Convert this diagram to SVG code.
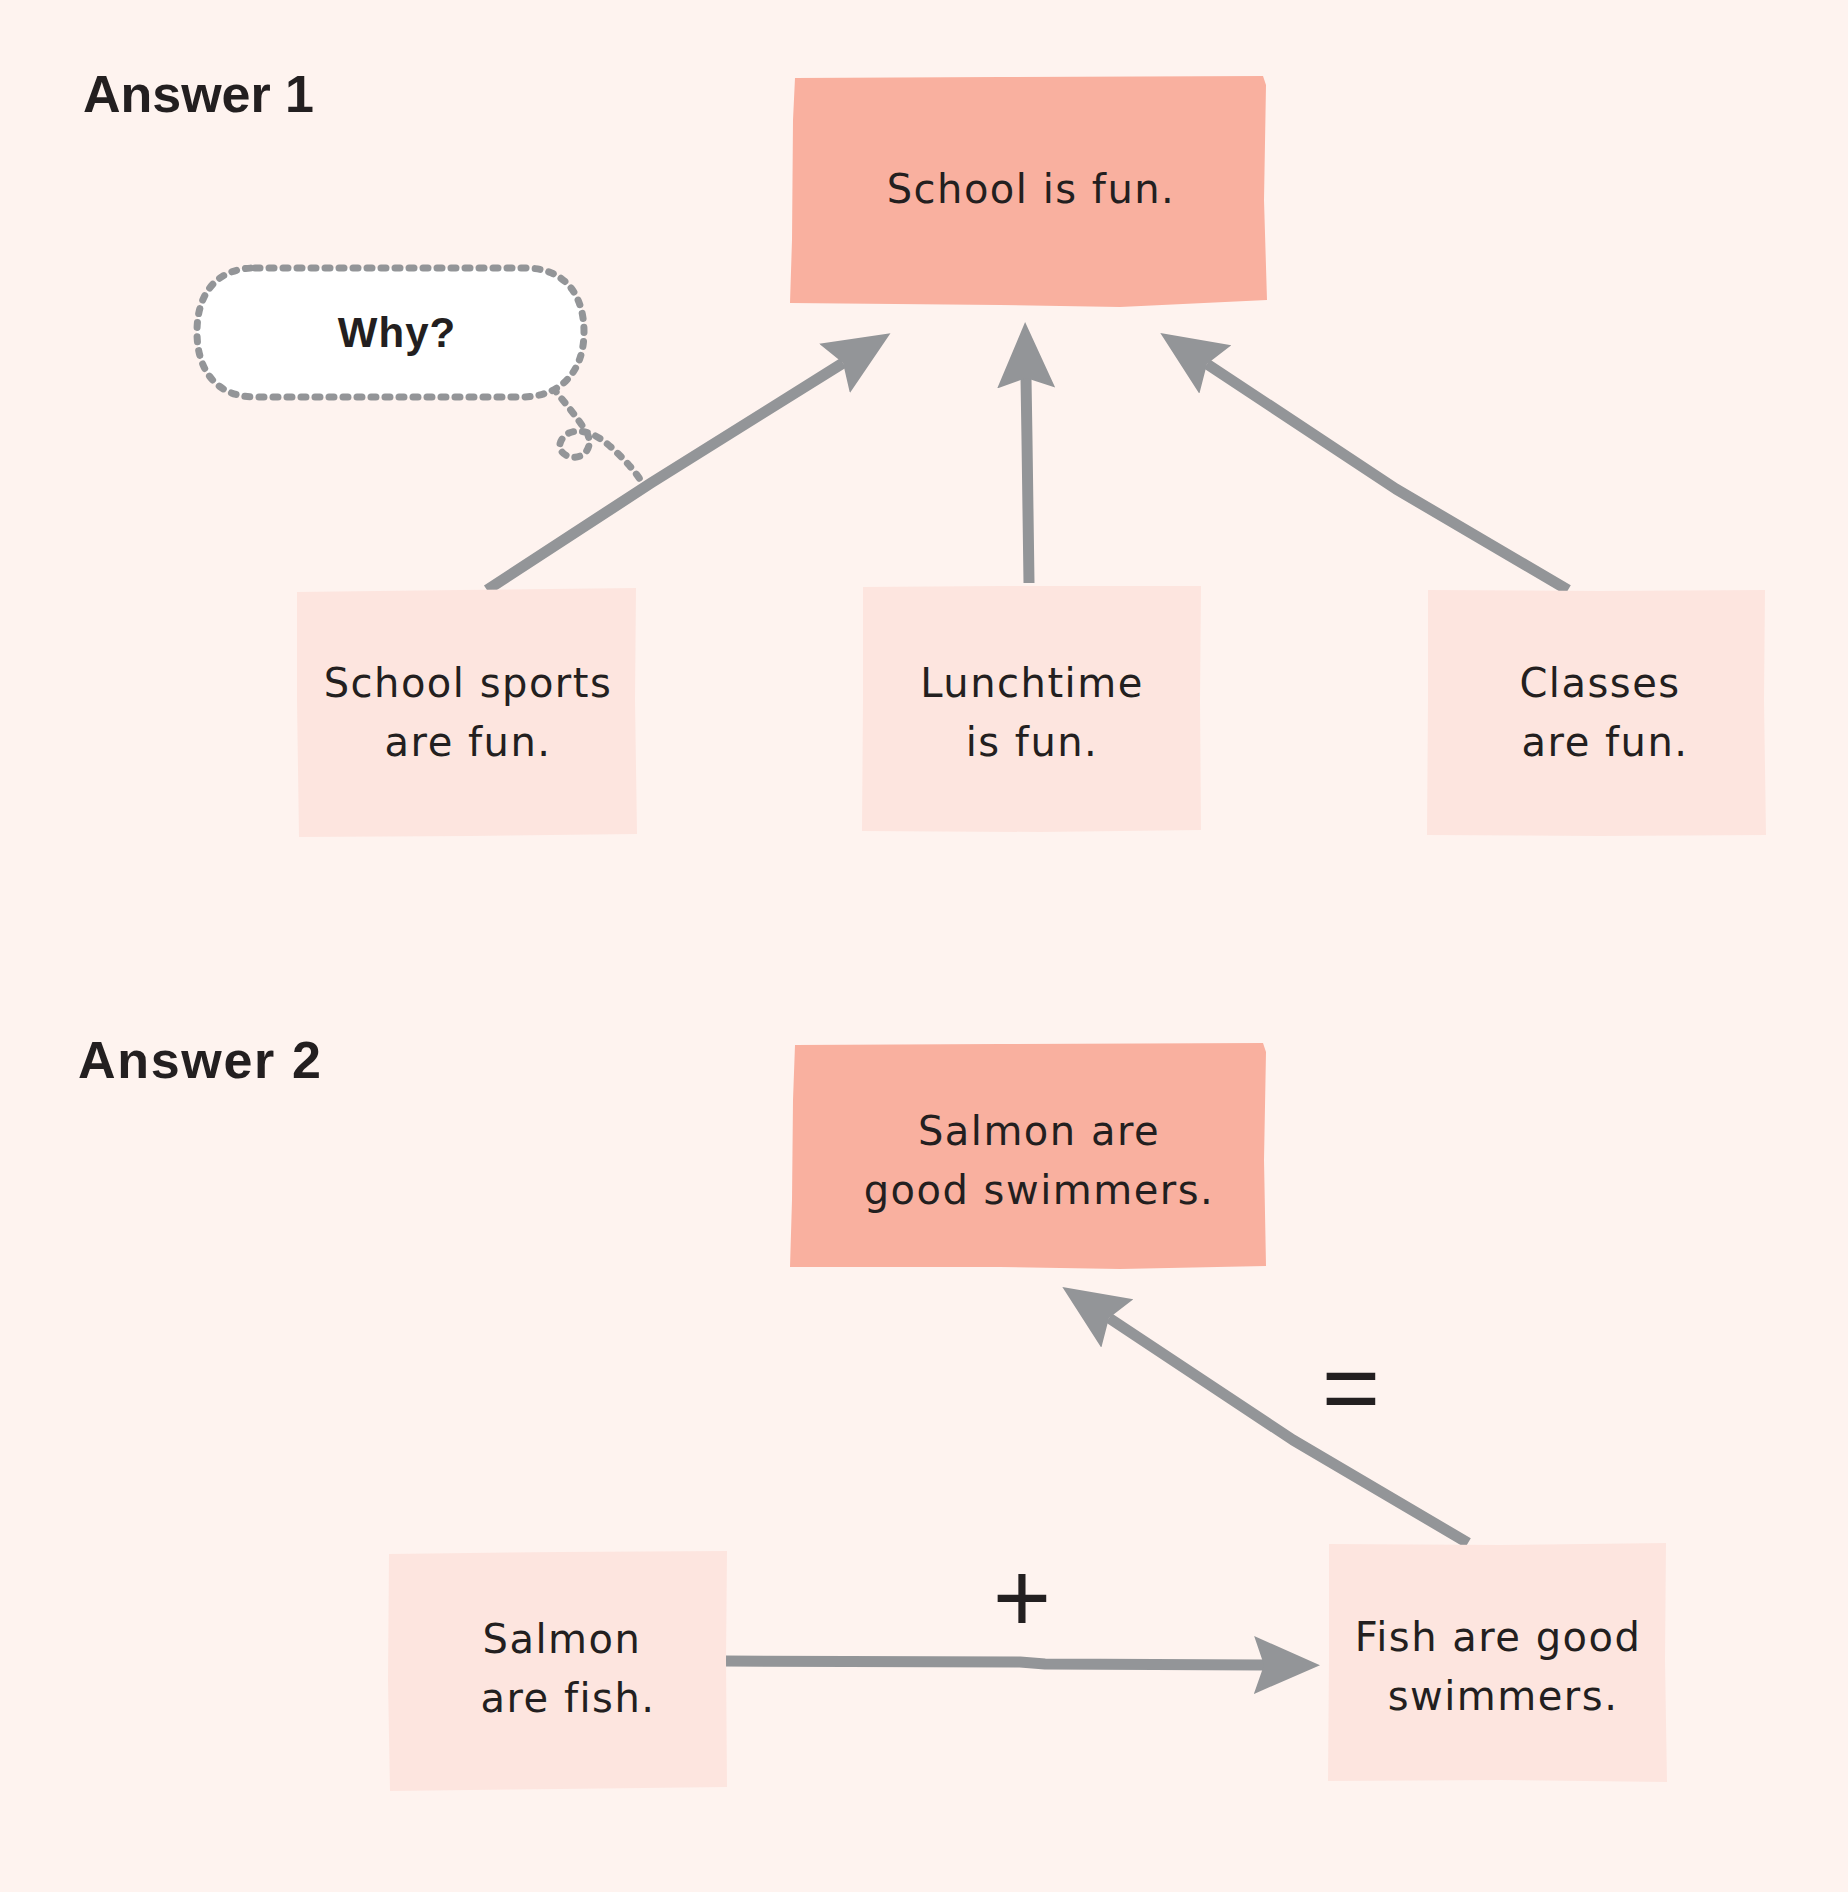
<svg xmlns="http://www.w3.org/2000/svg" width="1848" height="1892" viewBox="0 0 1848 1892">
<defs>
<style>
.bg{fill:#FEF3EF}
.main{fill:#F9B09F}
.sub{fill:#FDE5DF}
.body{font-family:"DejaVu Sans","Liberation Sans",sans-serif;font-size:40px;fill:#231F20;text-anchor:middle;letter-spacing:1.5px}
.head{font-family:"Liberation Sans",Arial,sans-serif;font-weight:bold;font-size:52px;fill:#231F20}
.why{font-family:"Liberation Sans",Arial,sans-serif;font-weight:bold;font-size:42px;fill:#231F20;text-anchor:middle;letter-spacing:1px}
.op{font-family:"Liberation Sans",Arial,sans-serif;font-size:100px;fill:#231F20;text-anchor:middle}
.arrow{fill:none;stroke:#939598;stroke-width:11;stroke-linejoin:round;marker-end:url(#ah)}
.dots{fill:none;stroke:#939598;stroke-width:7;stroke-linecap:round;stroke-dasharray:5 9}
</style>
<marker id="ah" markerUnits="userSpaceOnUse" markerWidth="80" markerHeight="70" viewBox="0 0 80 70" refX="10" refY="35" orient="auto">
<path d="M0,6 L66,35 L0,64 L10,35 Z" fill="#939598"/>
</marker>
</defs>
<rect class="bg" x="0" y="0" width="1848" height="1892"/>

<text class="head" x="83" y="112" textLength="231" lengthAdjust="spacing">Answer 1</text>
<text class="head" x="78" y="1078" textLength="243" lengthAdjust="spacing">Answer 2</text>

<g id="connectors">
<path class="arrow" d="M487,590 L651,483 L843,363"/>
<path class="arrow" d="M1029,583 L1027,440 L1026,378"/>
<path class="arrow" d="M1568,590 L1396,489 L1207,364"/>
<path class="arrow" d="M1468,1543 L1293,1440 L1109,1318"/>
<path class="arrow" d="M725,1661 L1020,1662 L1045,1664 L1264,1665"/>
<path class="dots" d="M553,388 C565,403 578,418 587,433 C594,447 584,459 571,457 C557,454 556,440 569,433 C584,427 600,437 612,448 C625,460 636,472 643,484"/>
</g>

<g id="node-school-fun">
<polygon class="main" points="795,78 1000,77 1263,76 1266,85 1264,200 1267,300 1120,307 1000,305 790,303 792,240 793,120"/>
<text class="body" x="1031" y="203">School is fun.</text>
</g>

<g id="node-why">
<path d="M255,268 L525,268 C565,268 584,295 584,332 C584,372 560,397 522,397 L255,397 C218,397 197,372 197,332 C197,292 218,268 255,268 Z" fill="#FFFFFF" stroke="#939598" stroke-width="7" stroke-linecap="round" stroke-dasharray="5 9"/>
<text class="why" x="397" y="347">Why?</text>
</g>

<g id="node-sports">
<polygon class="sub" points="297,592 460,590 636,588 635,700 637,834 470,836 299,837 297,700"/>
<text class="body" x="468" y="697">School sports</text>
<text class="body" x="468" y="756">are fun.</text>
</g>

<g id="node-lunch">
<polygon class="sub" points="863,587 1000,586 1201,586 1200,700 1201,830 1040,832 862,831 863,700"/>
<text class="body" x="1032" y="697">Lunchtime</text>
<text class="body" x="1032" y="756">is fun.</text>
</g>

<g id="node-classes">
<polygon class="sub" points="1428,590 1600,591 1765,590 1764,700 1766,835 1600,836 1427,835 1428,700"/>
<text class="body" x="1600" y="697">Classes</text>
<text class="body" x="1605" y="756">are fun.</text>
</g>

<g id="node-salmon-good">
<polygon class="main" points="795,1045 1000,1044 1263,1043 1266,1052 1264,1160 1266,1266 1120,1269 1000,1267 790,1267 792,1200 793,1100"/>
<text class="body" x="1039" y="1145">Salmon are</text>
<text class="body" x="1039" y="1204">good swimmers.</text>
</g>

<g id="node-salmon-fish">
<polygon class="sub" points="389,1554 560,1552 727,1551 726,1660 727,1787 560,1789 390,1791 388,1680"/>
<text class="body" x="562" y="1653">Salmon</text>
<text class="body" x="568" y="1712">are fish.</text>
</g>

<g id="node-fish-good">
<polygon class="sub" points="1329,1544 1500,1545 1666,1543 1665,1660 1667,1782 1500,1780 1328,1781 1329,1660"/>
<text class="body" x="1498" y="1651">Fish are good</text>
<text class="body" x="1503" y="1710">swimmers.</text>
</g>

<text class="op" x="1022" y="1632">+</text>
<text class="op" x="1351" y="1422">=</text>
</svg>
